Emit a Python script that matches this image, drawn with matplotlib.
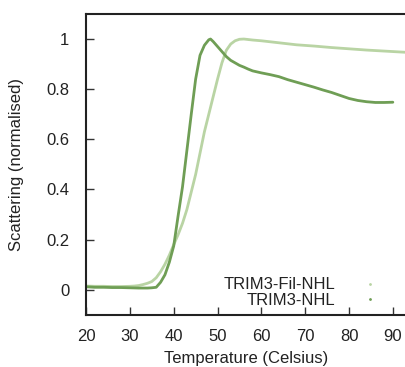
import matplotlib
matplotlib.use("Agg")
import matplotlib.pyplot as plt
from matplotlib.lines import Line2D

plt.rcParams['font.family'] = ['Liberation Sans', 'DejaVu Sans']

# TRIM3-NHL (dark green)
t_nhl = [20, 22, 24, 26, 28, 30, 32, 34, 35, 36, 37, 38, 39, 40, 41, 42, 43, 44, 45,
         46, 47, 48, 48.4, 49, 50, 51, 52, 53, 54, 55, 56, 57, 58, 60, 62, 64, 66,
         68, 70, 72, 74, 76, 78, 80, 82, 84, 86, 88, 90]
v_nhl = [0.012, 0.010, 0.010, 0.009, 0.009, 0.008, 0.007, 0.007, 0.008, 0.010, 0.03, 0.06,
         0.11, 0.175, 0.295, 0.41, 0.555, 0.70, 0.84, 0.935, 0.975, 0.997, 1.0,
         0.99, 0.97, 0.95, 0.93, 0.915, 0.905, 0.895, 0.888, 0.88, 0.873, 0.865, 0.858,
         0.85, 0.838, 0.828, 0.818, 0.808, 0.797, 0.787, 0.775, 0.763, 0.755, 0.75, 0.747,
         0.747, 0.748]

# TRIM3-Fil-NHL (light green)
t_fil = [20, 22, 24, 26, 28, 30, 31, 32, 33, 34, 35, 36, 37, 38, 39, 40, 41, 42, 43, 44,
         45, 46, 47, 48, 49, 50, 51, 52, 53, 54, 55, 56, 57, 58, 60, 64, 68, 72, 76, 80,
         84, 88, 93]
v_fil = [0.015, 0.014, 0.014, 0.013, 0.013, 0.014, 0.015, 0.017, 0.021, 0.026, 0.033, 0.048,
         0.072, 0.102, 0.138, 0.18, 0.22, 0.265, 0.32, 0.39, 0.46, 0.545, 0.63, 0.70, 0.77,
         0.84, 0.905, 0.955, 0.98, 0.993, 0.999, 1.0, 0.998, 0.996, 0.993, 0.985, 0.977,
         0.972, 0.966, 0.961, 0.956, 0.952, 0.947]

xticks = [20, 30, 40, 50, 60, 70, 80, 90]
yticks = [0, 0.2, 0.4, 0.6, 0.8, 1]
ytick_labels = ['0', '0.2', '0.4', '0.6', '0.8', '1']

dark = '#6f9e55'
light = '#b9d4a4'
txt = '#222222'

fig = plt.figure(figsize=(4.06, 3.67), dpi=100)
ax = fig.add_axes([0.212, 0.142, 0.788, 0.820])

ax.plot(t_fil, v_fil, color=light, lw=2.0, solid_capstyle='round')
ax.plot(t_nhl, v_nhl, color=dark, lw=2.0, solid_capstyle='round')

ax.set_xlim(20, 93)
ax.set_ylim(-0.1, 1.1)
ax.set_xticks(xticks)
ax.set_yticks(yticks)
ax.set_yticklabels(ytick_labels)
ax.tick_params(direction='in', length=6, width=1, colors='#333333', labelcolor=txt,
               labelsize=12)
ax.tick_params(axis='x', pad=10)
ax.tick_params(axis='y', pad=12)
for s in ['left', 'bottom', 'top']:
    ax.spines[s].set_linewidth(1.5)
    ax.spines[s].set_color('#222222')
ax.spines['right'].set_visible(False)

ax.set_xlabel('Temperature (Celsius)', fontsize=12, color=txt, labelpad=5)
ax.set_ylabel('Scattering (normalised)', fontsize=12, color=txt, labelpad=16)

handles = [Line2D([], [], color=light, marker='.', markersize=2, linestyle='none'),
           Line2D([], [], color=dark, marker='.', markersize=2, linestyle='none')]
ax.legend(handles, ['TRIM3-Fil-NHL', 'TRIM3-NHL'], loc='lower right', frameon=False,
          markerfirst=False, fontsize=12, labelspacing=0.05, handlelength=1.5,
          handletextpad=1.3, borderaxespad=0.0, bbox_to_anchor=(0.947, 0.0),
          labelcolor=txt)

fig.savefig('out.png', dpi=100)
